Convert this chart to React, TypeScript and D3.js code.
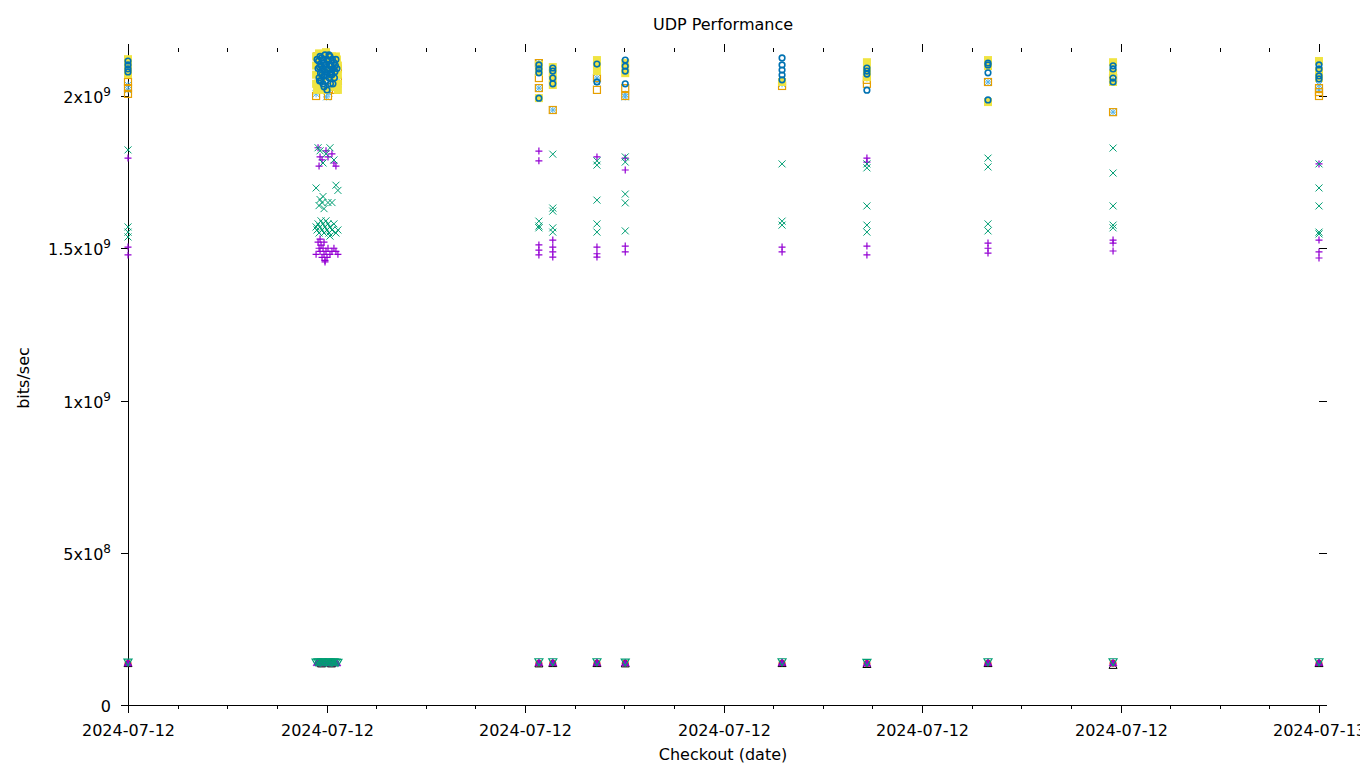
import React from 'react';
import * as d3 from 'd3';

// x: hours after 2024-07-12 00:00, y: bits/sec
type P = [number, number];

const title = 'UDP Performance';
const xTitle = 'Checkout (date)';
const yTitle = 'bits/sec';
const startDate = new Date(2024, 6, 12, 0, 0, 0);
const endDate = new Date(2024, 6, 13, 0, 0, 0);
const yTickValues = [0, 5e8, 1e9, 1.5e9, 2e9];
const yMax = 2.1445e9;

// series 1: purple +
const s1Plus: P[] = [
  [0, 1.796e9], [0, 1.504e9], [0, 1.478e9],
  [3.83, 1.83e9], [3.87, 1.8e9], [3.85, 1.77e9], [3.99, 1.82e9], [4.03, 1.8e9], [4.15, 1.78e9], [4.19, 1.77e9], [4.11, 1.81e9], [3.91, 1.79e9],
  [3.79, 1.48e9], [3.83, 1.52e9], [3.85, 1.5e9], [3.87, 1.49e9], [3.89, 1.51e9], [3.91, 1.47e9], [3.93, 1.5e9], [3.95, 1.48e9], [3.97, 1.46e9], [3.99, 1.49e9], [4.01, 1.47e9], [4.03, 1.5e9], [4.07, 1.48e9], [4.11, 1.49e9], [4.15, 1.5e9], [4.19, 1.49e9], [4.23, 1.48e9], [3.87, 1.53e9], [3.95, 1.52e9], [3.97, 1.455e9],
  [8.28, 1.819e9], [8.28, 1.787e9], [8.28, 1.511e9], [8.28, 1.494e9], [8.28, 1.478e9],
  [8.56, 1.527e9], [8.56, 1.504e9], [8.56, 1.488e9], [8.56, 1.471e9],
  [9.45, 1.8e9], [9.45, 1.504e9], [9.45, 1.471e9], [9.45, 1.482e9],
  [10.02, 1.796e9], [10.02, 1.757e9], [10.02, 1.507e9], [10.02, 1.488e9],
  [13.18, 1.504e9], [13.18, 1.488e9],
  [14.89, 1.796e9], [14.89, 1.783e9], [14.89, 1.507e9], [14.89, 1.478e9],
  [17.33, 1.517e9], [17.33, 1.5e9], [17.33, 1.484e9],
  [19.85, 1.527e9], [19.85, 1.517e9], [19.85, 1.491e9],
  [24, 1.777e9], [24, 1.527e9], [24, 1.488e9], [24, 1.468e9],
];

// series 2: green x
const s2Cross: P[] = [
  [0, 1.823e9], [0, 1.57e9], [0, 1.553e9], [0, 1.537e9],
  [3.83, 1.83e9], [3.87, 1.82e9], [4.07, 1.83e9], [3.99, 1.81e9], [4.15, 1.79e9], [3.93, 1.78e9],
  [3.79, 1.698e9], [4.19, 1.707e9], [4.23, 1.69e9], [3.87, 1.66e9], [3.91, 1.65e9], [3.85, 1.64e9], [3.95, 1.63e9], [4.03, 1.65e9], [4.11, 1.65e9], [3.93, 1.67e9],
  [3.79, 1.57e9], [3.81, 1.56e9], [3.83, 1.58e9], [3.85, 1.55e9], [3.87, 1.57e9], [3.89, 1.59e9], [3.91, 1.56e9], [3.93, 1.58e9], [3.95, 1.55e9], [3.97, 1.57e9], [3.99, 1.59e9], [4.01, 1.56e9], [4.03, 1.58e9], [4.05, 1.55e9], [4.07, 1.57e9], [4.11, 1.56e9], [4.15, 1.58e9], [4.19, 1.55e9], [4.23, 1.56e9], [4.07, 1.54e9],
  [8.28, 1.589e9], [8.28, 1.573e9], [8.28, 1.567e9],
  [8.56, 1.809e9], [8.56, 1.632e9], [8.56, 1.622e9], [8.56, 1.567e9], [8.56, 1.553e9],
  [9.45, 1.787e9], [9.45, 1.773e9], [9.45, 1.658e9], [9.45, 1.58e9], [9.45, 1.553e9],
  [10.02, 1.8e9], [10.02, 1.783e9], [10.02, 1.678e9], [10.02, 1.649e9], [10.02, 1.557e9],
  [13.18, 1.777e9], [13.18, 1.589e9], [13.18, 1.576e9],
  [14.89, 1.777e9], [14.89, 1.764e9], [14.89, 1.639e9], [14.89, 1.576e9], [14.89, 1.553e9],
  [17.33, 1.796e9], [17.33, 1.767e9], [17.33, 1.58e9], [17.33, 1.557e9],
  [19.85, 1.829e9], [19.85, 1.747e9], [19.85, 1.639e9], [19.85, 1.576e9], [19.85, 1.567e9],
  [24, 1.777e9], [24, 1.698e9], [24, 1.639e9], [24, 1.553e9], [24, 1.547e9],
];

// series 3: light blue *
const s3Star: P[] = [
  [0, 2.036e9], [0, 2.02e9],
  [3.87, 2.1e9], [3.95, 2.09e9], [4.03, 2.08e9], [4.11, 2.07e9], [3.91, 2.06e9], [3.99, 2.12e9], [4.07, 2.11e9], [4.19, 2.09e9], [3.83, 2.04e9], [4.23, 2.05e9], [4.05, 2.01e9], [4.0, 1.997e9], [3.79, 2.007e9],
  [8.28, 2.108e9], [8.28, 2.026e9],
  [8.56, 1.954e9],
  [9.45, 2.059e9], [9.45, 2.046e9],
  [10.02, 2.006e9], [10.02, 1.997e9],
  [13.18, 2.04e9],
  [14.89, 2.059e9],
  [17.33, 2.046e9],
  [19.85, 2.069e9], [19.85, 1.947e9],
  [24, 2.036e9], [24, 2.02e9],
];

// series 4: orange open square
const s4Square: P[] = [
  [0, 2.046e9], [0, 2.026e9], [0, 2.007e9],
  [3.79, 2.0e9], [3.81, 2.13e9], [3.83, 2.04e9], [4.03, 2.0e9], [4.19, 2.02e9], [4.23, 2.05e9], [4.23, 2.09e9], [3.87, 2.06e9], [4.11, 2.03e9], [3.91, 2.12e9], [4.07, 2.1e9], [4.15, 2.07e9],
  [8.28, 2.108e9], [8.28, 2.059e9], [8.28, 2.026e9],
  [8.56, 1.954e9],
  [9.45, 2.059e9], [9.45, 2.02e9],
  [10.02, 2.026e9], [10.02, 2.0e9],
  [13.18, 2.033e9],
  [14.89, 2.053e9], [14.89, 2.04e9],
  [17.33, 2.046e9],
  [19.85, 2.059e9], [19.85, 1.947e9],
  [24, 2.026e9], [24, 2.013e9], [24, 2.0e9],
];

// series 5: yellow filled square
const s5Filled: P[] = [
  [0, 2.121e9], [0, 2.098e9], [0, 2.072e9],
  [3.79, 2.13e9], [3.79, 2.1e9], [3.79, 2.07e9], [3.79, 2.04e9], [3.81, 2.02e9], [3.85, 2.14e9], [3.83, 2.11e9], [3.87, 2.08e9], [3.91, 2.05e9], [3.95, 2.13e9], [3.99, 2.144e9], [4.03, 2.12e9], [4.07, 2.09e9], [4.11, 2.06e9], [4.15, 2.03e9], [4.19, 2.13e9], [4.23, 2.1e9], [4.23, 2.07e9], [4.23, 2.04e9], [4.23, 2.02e9], [4.21, 2.12e9], [3.97, 2.02e9], [4.11, 2.13e9],
  [8.28, 2.102e9], [8.28, 2.079e9], [8.28, 1.993e9],
  [8.56, 2.095e9], [8.56, 2.075e9], [8.56, 2.053e9], [8.56, 2.036e9],
  [9.45, 2.118e9], [9.45, 2.098e9], [9.45, 2.082e9],
  [10.02, 2.108e9], [10.02, 2.089e9], [10.02, 2.075e9],
  [13.18, 2.046e9],
  [14.89, 2.111e9], [14.89, 2.085e9], [14.89, 2.062e9],
  [17.33, 2.118e9], [17.33, 2.098e9], [17.33, 1.98e9],
  [19.85, 2.111e9], [19.85, 2.075e9], [19.85, 2.046e9],
  [24, 2.115e9], [24, 2.082e9], [24, 2.059e9],
];

// series 6: blue open circle
const s6Circle: P[] = [
  [0, 2.115e9], [0, 2.102e9], [0, 2.089e9], [0, 2.079e9],
  [3.81, 2.12e9], [3.83, 2.09e9], [3.85, 2.06e9], [3.87, 2.13e9], [3.89, 2.1e9], [3.91, 2.07e9], [3.93, 2.04e9], [3.95, 2.11e9], [3.97, 2.08e9], [3.99, 2.05e9], [4.01, 2.12e9], [4.03, 2.09e9], [4.05, 2.06e9], [4.07, 2.13e9], [4.09, 2.1e9], [4.11, 2.07e9], [4.13, 2.04e9], [4.15, 2.11e9], [4.17, 2.08e9], [4.19, 2.12e9], [4.21, 2.09e9], [3.89, 2.05e9], [4.01, 2.02e9], [3.97, 2.135e9], [4.05, 2.135e9], [3.93, 2.12e9], [4.1, 2.08e9],
  [3.84, 2.115e9], [3.86, 2.095e9], [3.88, 2.075e9], [3.9, 2.125e9], [3.92, 2.09e9], [3.94, 2.065e9], [3.96, 2.1e9], [3.98, 2.07e9], [4.0, 2.105e9], [4.02, 2.085e9], [4.04, 2.115e9], [4.06, 2.1e9], [4.08, 2.07e9], [4.12, 2.12e9], [4.14, 2.09e9], [4.16, 2.06e9], [4.18, 2.1e9], [3.86, 2.05e9], [3.95, 2.03e9], [4.08, 2.04e9],
  [8.28, 2.102e9], [8.28, 2.089e9], [8.28, 2.076e9], [8.28, 1.993e9],
  [8.56, 2.092e9], [8.56, 2.082e9], [8.56, 2.059e9], [8.56, 2.04e9],
  [9.45, 2.105e9], [9.45, 2.046e9],
  [10.02, 2.118e9], [10.02, 2.098e9], [10.02, 2.082e9], [10.02, 2.04e9],
  [13.18, 2.125e9], [13.18, 2.102e9], [13.18, 2.085e9], [13.18, 2.069e9], [13.18, 2.053e9],
  [14.89, 2.092e9], [14.89, 2.082e9], [14.89, 2.072e9], [14.89, 2.019e9],
  [17.33, 2.108e9], [17.33, 2.102e9], [17.33, 2.076e9], [17.33, 1.987e9],
  [19.85, 2.099e9], [19.85, 2.089e9], [19.85, 2.059e9], [19.85, 2.046e9],
  [24, 2.102e9], [24, 2.089e9], [24, 2.066e9], [24, 2.056e9],
];

// series 7: red filled circle
const s7Dot: P[] = [
  [0, 1.36e8], [3.85, 1.37e8], [3.95, 1.36e8], [4.05, 1.37e8], [4.15, 1.36e8],
  [8.28, 1.37e8], [8.56, 1.37e8], [9.45, 1.37e8], [10.02, 1.37e8], [13.18, 1.37e8],
  [14.89, 1.36e8], [17.33, 1.37e8], [19.85, 1.37e8], [24, 1.37e8],
];

// series 8: black open triangle
const s8Tri: P[] = [
  [0, 1.36e8], [3.9, 1.35e8], [4.1, 1.35e8],
  [8.28, 1.35e8], [8.56, 1.36e8], [9.45, 1.36e8], [10.02, 1.35e8], [13.18, 1.36e8],
  [14.89, 1.33e8], [17.33, 1.36e8], [19.85, 1.3e8], [24, 1.36e8],
];

// series 9: purple filled triangle
const s9TriFilled: P[] = [
  [0, 1.38e8], [3.81, 1.39e8], [3.89, 1.38e8], [3.97, 1.39e8], [4.05, 1.38e8], [4.13, 1.39e8], [4.21, 1.38e8],
  [8.28, 1.39e8], [8.56, 1.39e8], [9.45, 1.39e8], [10.02, 1.38e8], [13.18, 1.39e8],
  [14.89, 1.37e8], [17.33, 1.39e8], [19.85, 1.38e8], [24, 1.39e8],
];

// series 10: green open inverted triangle
const s10TriDown: P[] = [
  [0, 1.41e8], [3.79, 1.41e8], [3.83, 1.42e8], [3.87, 1.4e8], [3.91, 1.42e8], [3.95, 1.41e8], [3.99, 1.4e8], [4.03, 1.42e8], [4.07, 1.41e8], [4.11, 1.4e8], [4.15, 1.42e8], [4.19, 1.41e8], [4.23, 1.4e8],
  [8.28, 1.42e8], [8.56, 1.42e8], [9.45, 1.42e8], [10.02, 1.41e8], [13.18, 1.42e8],
  [14.89, 1.4e8], [17.33, 1.42e8], [19.85, 1.42e8], [24, 1.42e8],
];

const seriesDefs = [
  { data: s1Plus, shape: 'plus', color: '#9400d3' },
  { data: s2Cross, shape: 'cross', color: '#009e73' },
  { data: s3Star, shape: 'star', color: '#56b4e9' },
  { data: s4Square, shape: 'square', color: '#e69f00' },
  { data: s5Filled, shape: 'squareFilled', color: '#f0e442' },
  { data: s6Circle, shape: 'circle', color: '#0072b2' },
  { data: s7Dot, shape: 'circleFilled', color: '#e51e10' },
  { data: s8Tri, shape: 'triangle', color: '#000000' },
  { data: s9TriFilled, shape: 'triangleFilled', color: '#9400d3' },
  { data: s10TriDown, shape: 'triangleDown', color: '#009e73' },
];

const W = 1360;
const H = 768;
const M = { left: 128, right: 1319, top: 52, bottom: 705 };
const FONT = '"DejaVu Sans", sans-serif';

function Marker({ shape, color, x, y }: { shape: string; color: string; x: number; y: number }) {
  const r = 3.5;
  switch (shape) {
    case 'plus':
      return <path d={`M${x - r},${y}H${x + r}M${x},${y - r}V${y + r}`} stroke={color} strokeWidth={1.2} fill="none" />;
    case 'cross':
      return <path d={`M${x - r},${y - r}L${x + r},${y + r}M${x - r},${y + r}L${x + r},${y - r}`} stroke={color} strokeWidth={1} fill="none" />;
    case 'star':
      return <path d={`M${x - r},${y}H${x + r}M${x},${y - r}V${y + r}M${x - r},${y - r}L${x + r},${y + r}M${x - r},${y + r}L${x + r},${y - r}`} stroke={color} strokeWidth={1} fill="none" />;
    case 'square':
      return <rect x={x - r} y={y - r} width={2 * r} height={2 * r} stroke={color} strokeWidth={1.2} fill="none" />;
    case 'squareFilled':
      return <rect x={x - r - 0.5} y={y - r - 0.5} width={2 * r + 1} height={2 * r + 1} fill={color} />;
    case 'circle':
      return <circle cx={x} cy={y} r={r - 0.7} stroke={color} strokeWidth={1.6} fill="none" />;
    case 'circleFilled':
      return <circle cx={x} cy={y} r={r} fill={color} />;
    case 'triangle':
      return <path d={`M${x},${y - r - 0.5}L${x + r + 0.5},${y + r - 0.5}L${x - r - 0.5},${y + r - 0.5}Z`} stroke={color} strokeWidth={1} fill="none" />;
    case 'triangleFilled':
      return <path d={`M${x},${y - r - 0.5}L${x + r + 0.5},${y + r - 0.5}L${x - r - 0.5},${y + r - 0.5}Z`} fill={color} stroke={color} strokeWidth={0.5} />;
    case 'triangleDown':
      return <path d={`M${x},${y + r + 0.5}L${x + r + 0.5},${y - r + 0.5}L${x - r - 0.5},${y - r + 0.5}Z`} stroke={color} strokeWidth={1.2} fill="none" />;
    default:
      return null;
  }
}

function yLabel(v: number) {
  if (v === 0) return { mant: '0', exp: '' };
  const e = Math.floor(Math.log10(v));
  const m = +(v / Math.pow(10, e)).toFixed(2);
  return { mant: `${m}x10`, exp: String(e) };
}

export default function App() {
  const x = d3.scaleTime().domain([startDate, endDate]).range([M.left, M.right]);
  const y = d3.scaleLinear().domain([0, yMax]).range([M.bottom, M.top]);
  const hourToDate = (h: number) => new Date(startDate.getTime() + h * 3600 * 1000);
  const majorTicks = x.ticks(d3.timeHour.every(4)!);
  const minorTicks = x.ticks(d3.timeHour.every(1)!).filter((d) => d.getHours() % 4 !== 0);
  const fmt = d3.timeFormat('%Y-%m-%d');

  return (
    <div style={{ position: 'absolute', left: 0, top: 0 }}>
      <svg width={W} height={H} style={{ display: 'block', background: '#fff' }} fontFamily={FONT}>
        <rect x={0} y={0} width={W} height={H} fill="#fff" />
        <text x={723} y={30} textAnchor="middle" fontSize={16}>{title}</text>
        <line x1={M.left} x2={M.left} y1={M.top} y2={M.bottom} stroke="#000" strokeWidth={1} shapeRendering="crispEdges" />
        <line x1={M.left} x2={M.right} y1={M.bottom} y2={M.bottom} stroke="#000" strokeWidth={1} shapeRendering="crispEdges" />
        {yTickValues.map((v) => {
          const yy = Math.round(y(v)) + 0.5;
          const lab = yLabel(v);
          return (
            <g key={`y${v}`}>
              <line x1={M.left - 7} x2={M.left} y1={yy} y2={yy} stroke="#000" />
              <line x1={M.right} x2={M.right + 8} y1={yy} y2={yy} stroke="#000" />
              <text x={111} y={yy + 6} textAnchor="end" fontSize={16}>
                {lab.mant}
                {lab.exp && (
                  <tspan dy={-7} fontSize={12}>{lab.exp}</tspan>
                )}
              </text>
            </g>
          );
        })}
        {majorTicks.map((d) => {
          const xx = Math.round(x(d)) + 0.5;
          return (
            <g key={`xm${d.getTime()}`}>
              <line x1={xx} x2={xx} y1={M.bottom} y2={M.bottom + 8} stroke="#000" />
              <line x1={xx} x2={xx} y1={M.top} y2={M.top - 8} stroke="#000" />
              <text x={xx} y={736} textAnchor="middle" fontSize={16}>{fmt(d)}</text>
            </g>
          );
        })}
        {minorTicks.map((d) => {
          const xx = Math.round(x(d)) + 0.5;
          return (
            <g key={`xn${d.getTime()}`}>
              <line x1={xx} x2={xx} y1={M.bottom} y2={M.bottom + 4} stroke="#000" />
              <line x1={xx} x2={xx} y1={M.top} y2={M.top - 4} stroke="#000" />
            </g>
          );
        })}
        {seriesDefs.map((s, i) => (
          <g key={`s${i}`}>
            {s.data.map((p, j) => (
              <Marker key={j} shape={s.shape} color={s.color} x={x(hourToDate(p[0]))} y={y(p[1])} />
            ))}
          </g>
        ))}
        <text x={723} y={760} textAnchor="middle" fontSize={16}>{xTitle}</text>
        <text transform={`translate(29,378) rotate(-90)`} textAnchor="middle" fontSize={16}>{yTitle}</text>
      </svg>
    </div>
  );
}
